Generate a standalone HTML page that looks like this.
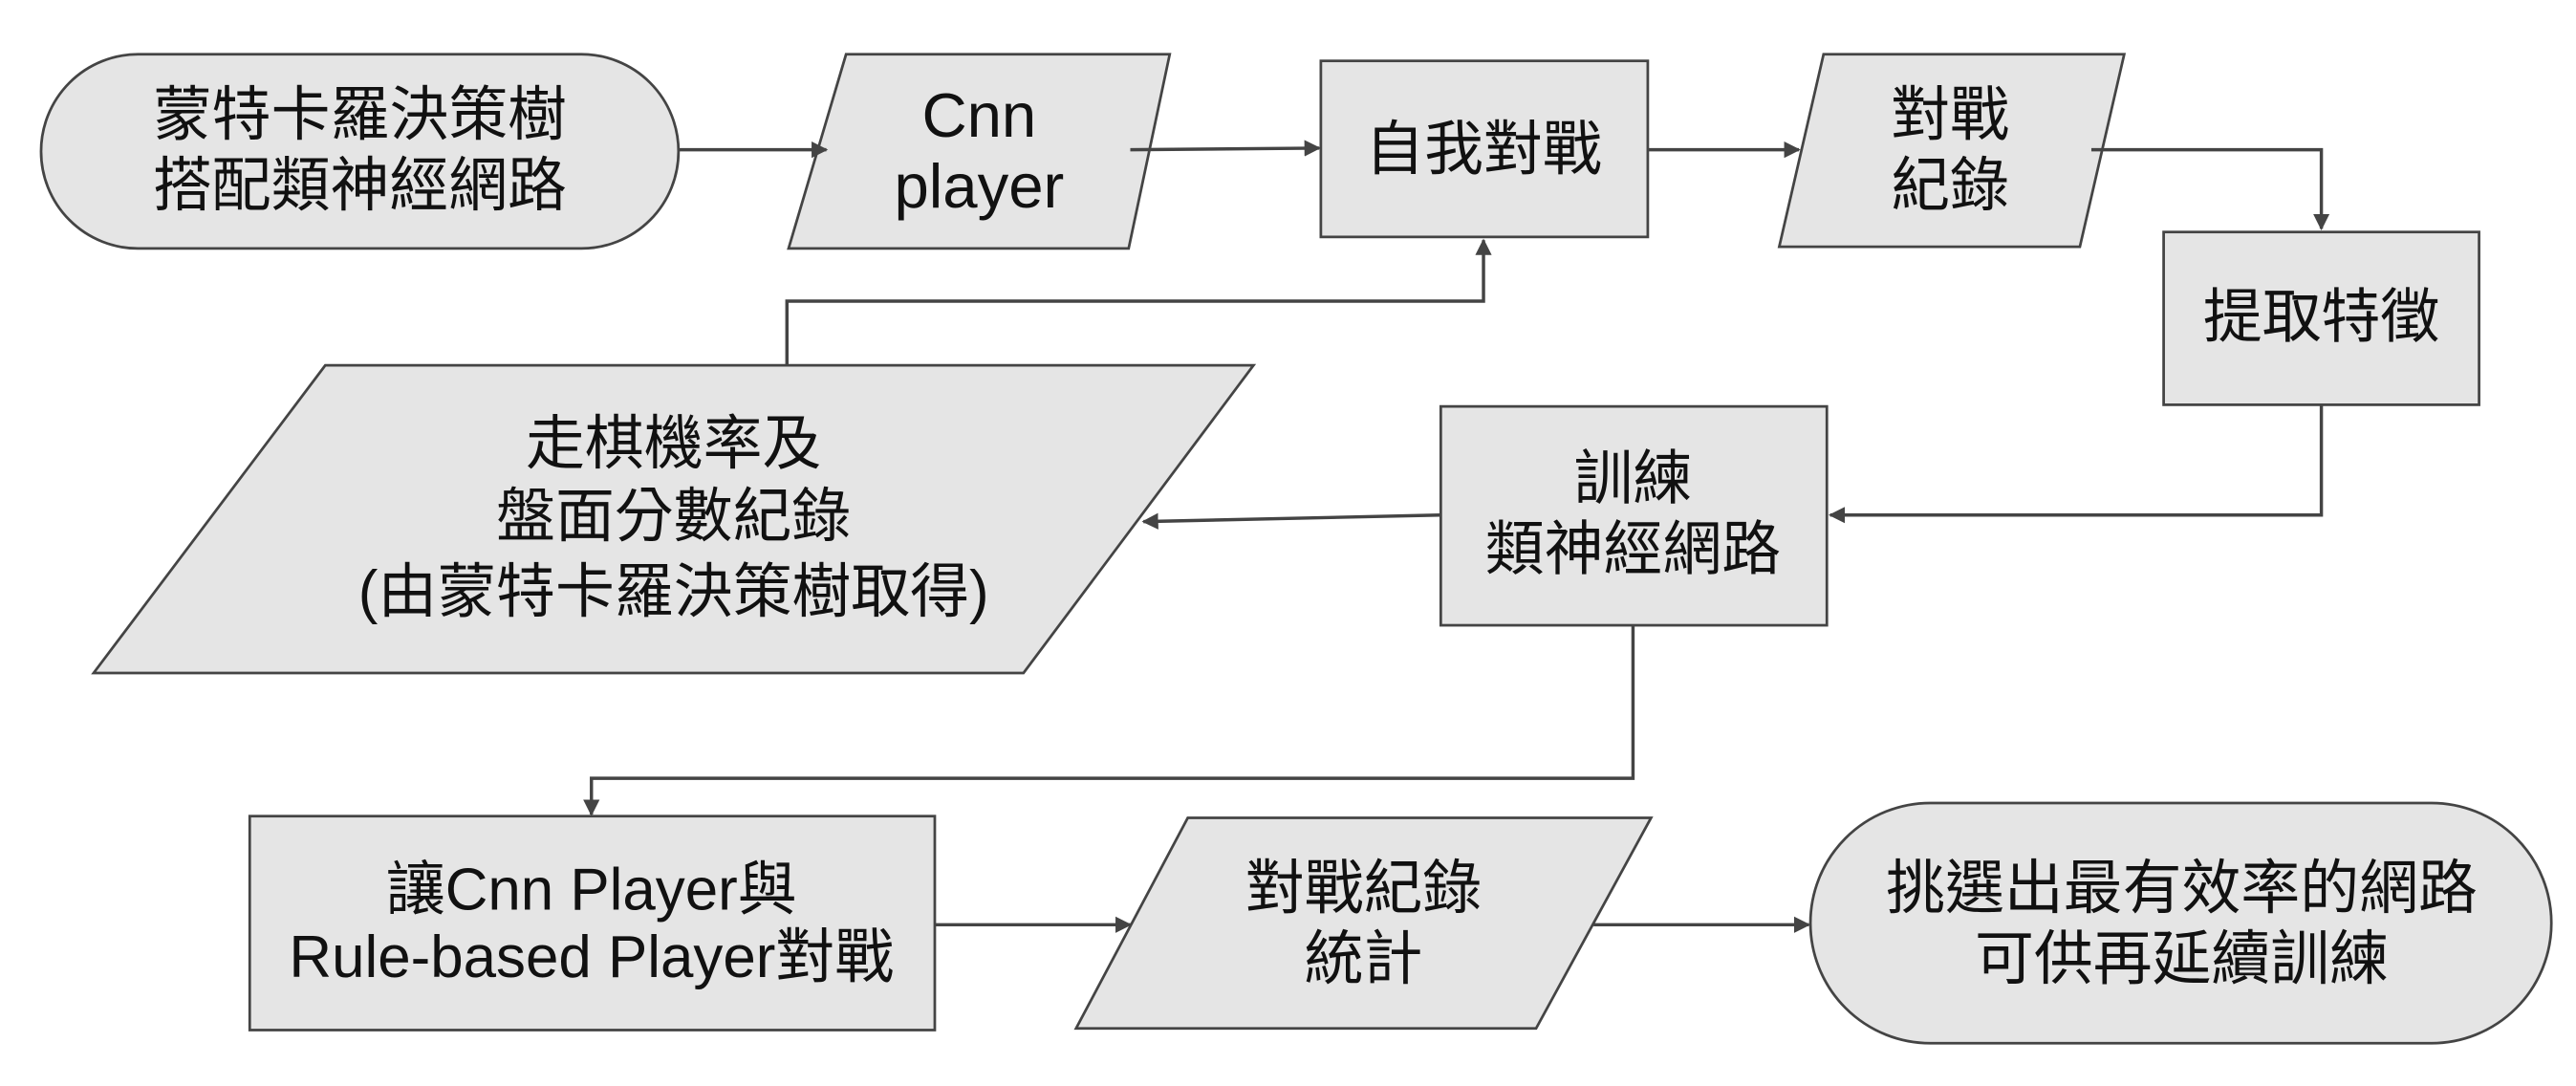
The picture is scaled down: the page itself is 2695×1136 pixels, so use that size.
<!DOCTYPE html>
<html><head><meta charset="utf-8"><style>
html,body{margin:0;padding:0;background:#fff;}
svg{display:block;}
text{font-family:"Liberation Sans","Noto Sans CJK TC",sans-serif;font-size:36px;fill:#111;text-anchor:middle;dominant-baseline:central;}
.s{fill:#e5e5e5;stroke:#444;stroke-width:1.6;}
.l{fill:none;stroke:#444;stroke-width:2;}
</style></head><body>
<svg width="2695" height="1136" viewBox="0 0 1568 660" preserveAspectRatio="none" xmlns="http://www.w3.org/2000/svg">
<defs><marker id="a" markerWidth="10" markerHeight="10" refX="9" refY="5" orient="auto" markerUnits="userSpaceOnUse"><path d="M0,0 L10,5 L0,10 z" fill="#444"/></marker></defs>
<rect class="s" x="25" y="33" width="388" height="118" rx="59"/>
<polygon class="s" points="515,33 712,33 687,151 480,151"/>
<rect class="s" x="804" y="37" width="199" height="107"/>
<polygon class="s" points="1110,33 1293,33 1266,150 1083,150"/>
<rect class="s" x="1317" y="141" width="192" height="105"/>
<rect class="s" x="877" y="247" width="235" height="133"/>
<polygon class="s" points="198,222 763,222 623,409 57,409"/>
<rect class="s" x="152" y="496" width="417" height="130"/>
<polygon class="s" points="723,497 1005,497 935,625 655,625"/>
<rect class="s" x="1102" y="488" width="451" height="146" rx="73"/>
<path class="l" d="M413,91 H503" marker-end="url(#a)"/>
<path class="l" d="M688,91 L803,90" marker-end="url(#a)"/>
<path class="l" d="M1003,91 H1095" marker-end="url(#a)"/>
<path class="l" d="M1273,91 H1413 V139" marker-end="url(#a)"/>
<path class="l" d="M1413,246 V313 H1114" marker-end="url(#a)"/>
<path class="l" d="M877,313 L696,317" marker-end="url(#a)"/>
<path class="l" d="M479,222 V183 H903 V146" marker-end="url(#a)"/>
<path class="l" d="M994,380 V473 H360 V495" marker-end="url(#a)"/>
<path class="l" d="M569,562 H688" marker-end="url(#a)"/>
<path class="l" d="M970,562 H1101" marker-end="url(#a)"/>
<text x="219" y="70">蒙特卡羅決策樹</text>
<text x="219" y="113">搭配類神經網路</text>
<text x="596" y="70" style="font-size:38px">Cnn</text>
<text x="596" y="113" style="font-size:38px">player</text>
<text x="903" y="91">自我對戰</text>
<text x="1187" y="70">對戰</text>
<text x="1187" y="113">紀錄</text>
<text x="1413" y="193">提取特徵</text>
<text x="994" y="291">訓練</text>
<text x="994" y="334">類神經網路</text>
<text x="410" y="270">走棋機率及</text>
<text x="410" y="314">盤面分數紀錄</text>
<text x="410" y="360">(由蒙特卡羅決策樹取得)</text>
<text x="360" y="541">讓Cnn Player與</text>
<text x="360" y="582">Rule-based Player對戰</text>
<text x="830" y="540">對戰紀錄</text>
<text x="830" y="583">統計</text>
<text x="1328" y="540">挑選出最有效率的網路</text>
<text x="1328" y="583">可供再延續訓練</text>
</svg>
</body></html>
